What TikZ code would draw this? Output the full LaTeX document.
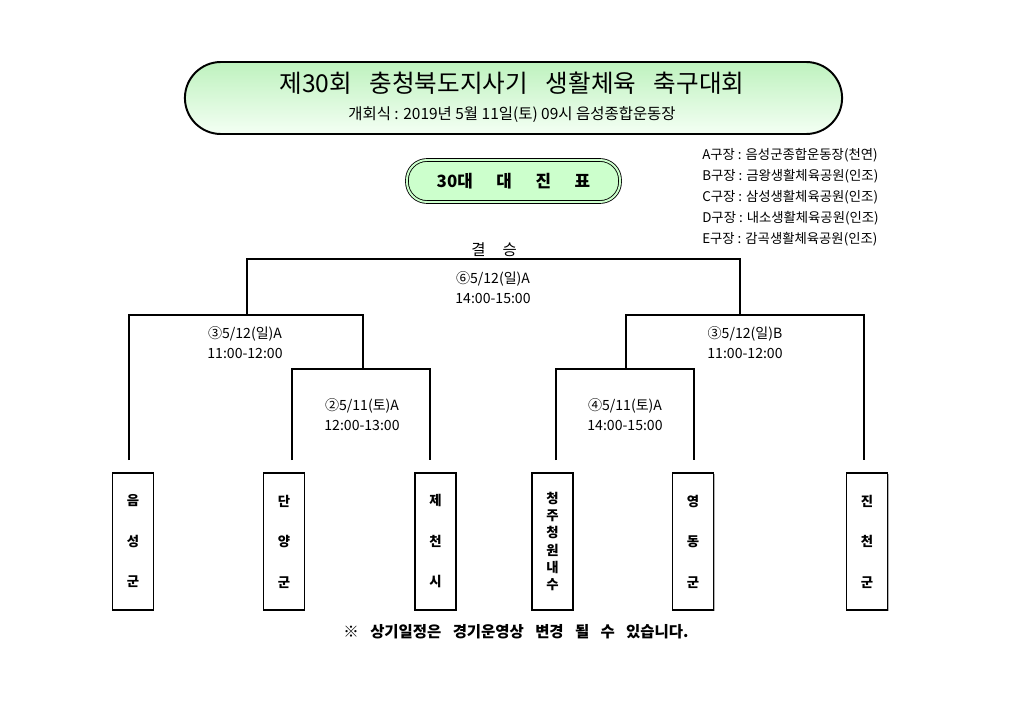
\documentclass[tikz,border=0pt]{standalone}
\usepackage{fontspec}
\setmainfont{Noto Sans CJK KR}
\newfontfamily\widefont{Noto Sans CJK KR}[WordSpace=2.6]
\newfontfamily\notefont{Noto Sans CJK KR}[WordSpace=3.2]
\usetikzlibrary{shadows}
\definecolor{titletop}{RGB}{190,242,190}
\definecolor{titlebot}{RGB}{244,255,244}
\definecolor{tablefill}{RGB}{204,255,204}

\begin{document}
\begin{tikzpicture}[x=0.025cm, y=-0.025cm,
    every node/.style={inner sep=0pt, font=\fontsize{10}{14.2}\selectfont},
    bracket/.style={line width=0.9pt},
    match/.style={align=center},
    teambox/.style={draw, line width=0.8pt, fill=white, minimum width=1.025cm, minimum height=3.425cm, align=center,
      drop shadow={shadow xshift=0.7pt, shadow yshift=-0.7pt, fill=black!30, opacity=1}}]
  \useasboundingbox (0,0) rectangle (1024,722);

  \node[draw, line width=1.4pt, rounded corners=0.9cm, top color=titletop, bottom color=titlebot,
    minimum width=16.425cm, minimum height=1.8cm] (titlebox) at (513.5,98) {};
  \node[font=\widefont\fontsize{17.5}{19}\selectfont] (title) at (512,83) {제30회 충청북도지사기 생활체육 축구대회};
  \node[font=\fontsize{11}{13}\selectfont] (opening) at (512,115) {개회식 : 2019년 5월 11일(토) 09시 음성종합운동장};

  \node[draw, line width=0.6pt, double=tablefill, double distance=1.4pt, fill=tablefill, rounded corners=0.5cm,
    minimum width=5.325cm, minimum height=1.05cm, font=\fontsize{12}{14}\selectfont\bfseries] (tabletitle) at (513.5,181)
    {30대\hspace{1.4em}대\hspace{1.4em}진\hspace{1.4em}표};

  \foreach \court/\place [count=\i] in {A/음성군종합운동장(천연), B/금왕생활체육공원(인조), C/삼성생활체육공원(인조),
      D/내소생활체육공원(인조), E/감곡생활체육공원(인조)}
    \node[anchor=west, font=\fontsize{9.5}{11}\selectfont] (court\court) at (702,{134+21*\i}) {\court 구장 : \place};

  \node[font=\fontsize{11}{13}\selectfont] (finaltitle) at (494,250) {결\hspace{1.1em}승};

  \node[match] (m6) at (493,287.5) {⑥5/12(일)A\\14:00-15:00};
  \node[match] (m3a) at (245,342.5) {③5/12(일)A\\11:00-12:00};
  \node[match] (m3b) at (745,342.5) {③5/12(일)B\\11:00-12:00};
  \node[match] (m2) at (362,415) {②5/11(토)A\\12:00-13:00};
  \node[match] (m4) at (625,415) {④5/11(토)A\\14:00-15:00};

  \node[teambox, font=\fontsize{9.5}{28.8}\selectfont\bfseries] (team1) at (133,541.5) {음\\성\\군};
  \node[teambox, font=\fontsize{9.5}{28.8}\selectfont\bfseries] (team2) at (284,541.5) {단\\양\\군};
  \node[teambox, font=\fontsize{9.5}{28.8}\selectfont\bfseries] (team3) at (435.5,541.5) {제\\천\\시};
  \node[teambox, font=\fontsize{9.5}{12.2}\selectfont\bfseries] (team4) at (552.5,541.5) {청\\주\\청\\원\\내\\수};
  \node[teambox, font=\fontsize{9.5}{28.8}\selectfont\bfseries] (team5) at (693,541.5) {영\\동\\군};
  \node[teambox, font=\fontsize{9.5}{28.8}\selectfont\bfseries] (team6) at (867,541.5) {진\\천\\군};

  \coordinate (leg1) at (129,460);
  \coordinate (leg2) at (292,460);
  \coordinate (leg3) at (430,460);
  \coordinate (leg4) at (556,460);
  \coordinate (leg5) at (694,460);
  \coordinate (leg6) at (864,460);
  \coordinate (top2) at (363,369);
  \coordinate (top4) at (626,369);
  \coordinate (top3a) at (247,315);
  \coordinate (top3b) at (740,315);
  \coordinate (top6) at (493,259);

  \draw[bracket] (leg2) |- (top2) -| (leg3);
  \draw[bracket] (leg4) |- (top4) -| (leg5);
  \draw[bracket] (leg1) |- (top3a) -| (top2);
  \draw[bracket] (top4) |- (top3b) -| (leg6);
  \draw[bracket] (top3a) |- (top6) -| (top3b);

  \node[font=\notefont\fontsize{11}{12}\selectfont\bfseries] (note) at (516,632) {※ 상기일정은 경기운영상 변경 될 수 있습니다.};
\end{tikzpicture}
\end{document}
